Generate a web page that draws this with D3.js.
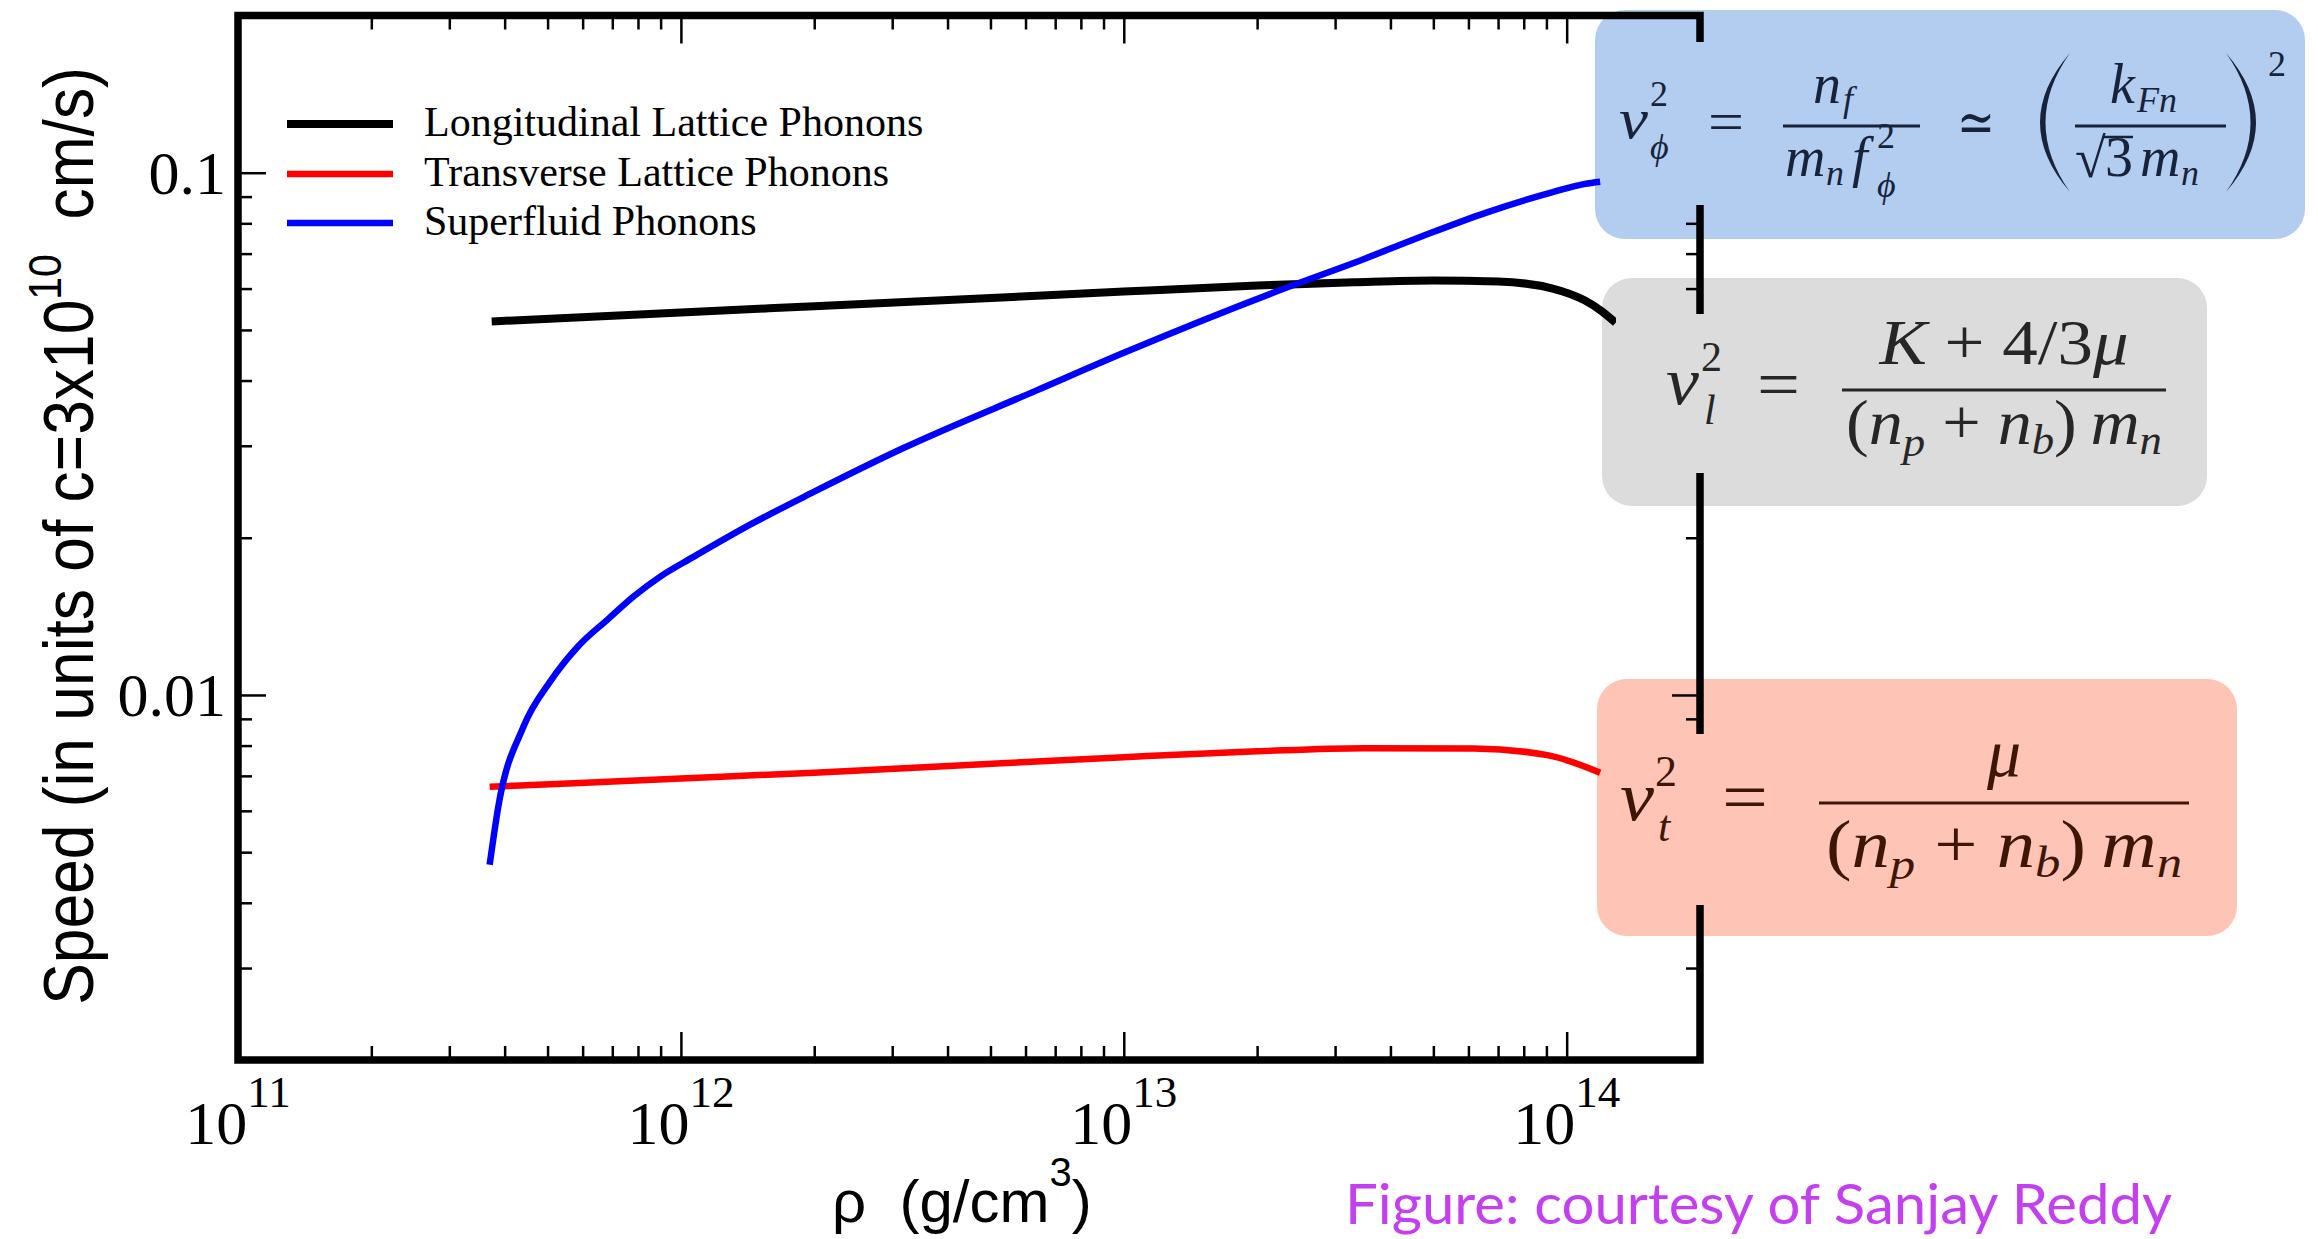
<!DOCTYPE html>
<html>
<head>
<meta charset="utf-8">
<script src="https://cdn.jsdelivr.net/npm/d3@7"></script>
<style>
  body { margin: 0; background: #fff; }
  svg { display: block; }
</style>
</head>
<body>
<div id="chart"></div>
<script>
// Values: density in g/cm^3, speed in units of c
const densityLongitudinal = [3.74e11, 1e12, 2e12, 5.3e12, 1e13, 2e13, 3.3e13, 5e13, 7e13, 9.3e13, 1.1e14, 1.2e14, 1.29e14];
const speedLongitudinal   = [0.0519, 0.0540, 0.0555, 0.0577, 0.0592, 0.0608, 0.0617, 0.0622, 0.0619, 0.0600, 0.0569, 0.0543, 0.0516];

const densityTransverse = [3.70e11, 1e12, 2e12, 5.3e12, 1e13, 2e13, 3.47e13, 6.17e13, 9.1e13, 1.19e14];
const speedTransverse   = [0.00667, 0.00692, 0.00710, 0.00740, 0.00760, 0.00780, 0.00791, 0.00790, 0.00766, 0.00710];

const densitySuperfluid = [3.70e11, 3.87e11, 4.41e11, 5.08e11, 5.87e11, 6.84e11, 7.83e11, 9.0e11, 1.07e12, 1.45e12, 2.0e12, 3.18e12, 6.36e12, 1.0e13, 2.35e13, 3.28e13, 4.7e13, 6.56e13, 9.3e13, 1.1e14, 1.19e14];
const speedSuperfluid   = [0.00473, 0.00611, 0.00869, 0.01064, 0.01241, 0.01396, 0.01545, 0.01687, 0.0184, 0.0213, 0.0245, 0.0297, 0.0383, 0.0452, 0.0604, 0.0670, 0.0755, 0.0838, 0.0918, 0.0952, 0.0961];

const seriesNames = ["Longitudinal Lattice Phonons", "Transverse Lattice Phonons", "Superfluid Phonons"];

const xMajorTicks = [1e11, 1e12, 1e13, 1e14];
const xTickExponents = ["11", "12", "13", "14"];
const yMajorTicks = [0.01, 0.1];
const yTickLabels = ["0.01", "0.1"];

class SpeedChart {

  constructor(_config) {
    this.config = {
      parentElement: _config.parentElement,
      containerWidth: 2318,
      containerHeight: 1239,
      plot: {left: 238, right: 1700, top: 15.5, bottom: 1060},
      majorTick: 28,
      minorTick: 14,
      colors: ["#000000", "#ff0000", "#0000ff"],
      widths: [8, 6.5, 6.5]
    };
    this.series = [
      densityLongitudinal.map((d, i) => [d, speedLongitudinal[i]]),
      densityTransverse.map((d, i) => [d, speedTransverse[i]]),
      densitySuperfluid.map((d, i) => [d, speedSuperfluid[i]])
    ];
    this.initVis();
  }

  initVis() {
    let vis = this;
    const p = vis.config.plot;

    vis.svg = d3.select(vis.config.parentElement).append("svg")
        .attr("width", vis.config.containerWidth)
        .attr("height", vis.config.containerHeight);

    vis.svg.append("rect")
        .attr("width", vis.config.containerWidth)
        .attr("height", vis.config.containerHeight)
        .attr("fill", "#fff");

    vis.xScale = d3.scaleLog().domain([1e11, 2e14]).range([p.left, p.right]);
    vis.yScale = d3.scaleLog().domain([0.002, 0.2]).range([p.bottom, p.top]);

    vis.addBoxes();
    vis.addAxes();
    vis.addLabels();
    vis.renderLines();
    vis.addLegend();
    vis.addFormulas();
  }

  addBoxes() {
    let vis = this;
    // formula panels sit behind the frame; their centres are opaque (see addFormulas)
    vis.boxes = [
      {x0: 1595, x1: 2305, y0: 10, y1: 239, fill: "#b3cdf1", inner: [42, 205], ink: "#17233a"},
      {x0: 1602, x1: 2207, y0: 278, y1: 506, fill: "#dcdcdc", inner: [314, 473], ink: "#262626"},
      {x0: 1597, x1: 2237, y0: 679, y1: 936, fill: "#fec4b5", inner: [734, 905], ink: "#3d1608"}
    ];
    vis.svg.append("g").selectAll("rect")
        .data(vis.boxes)
      .join("rect")
        .attr("x", d => d.x0)
        .attr("y", d => d.y0)
        .attr("width", d => d.x1 - d.x0)
        .attr("height", d => d.y1 - d.y0)
        .attr("rx", 30)
        .attr("fill", d => d.fill);
  }

  addAxes() {
    let vis = this;
    const p = vis.config.plot;

    const minorX = [];
    [1e11, 1e12, 1e13].forEach(d => d3.range(2, 10).forEach(k => minorX.push(d * k)));
    const minorY = [];
    [0.001, 0.01].forEach(d => d3.range(2, 10).forEach(k => { if (d * k > 0.0021) minorY.push(d * k); }));

    const specs = [
      {make: d3.axisBottom, scale: vis.xScale, pos: `translate(0,${p.bottom})`, major: xMajorTicks, minor: minorX},
      {make: d3.axisTop,    scale: vis.xScale, pos: `translate(0,${p.top})`,    major: xMajorTicks, minor: minorX},
      {make: d3.axisLeft,   scale: vis.yScale, pos: `translate(${p.left},0)`,   major: yMajorTicks, minor: minorY},
      {make: d3.axisRight,  scale: vis.yScale, pos: `translate(${p.right},0)`,  major: yMajorTicks, minor: minorY}
    ];

    specs.forEach(s => {
      const gMajor = vis.svg.append("g").attr("transform", s.pos)
          .call(s.make(s.scale).tickValues(s.major).tickSize(-vis.config.majorTick).tickSizeOuter(0).tickFormat(""));
      const gMinor = vis.svg.append("g").attr("transform", s.pos)
          .call(s.make(s.scale).tickValues(s.minor).tickSize(-vis.config.minorTick).tickSizeOuter(0).tickFormat(""));
      [gMajor, gMinor].forEach(g => {
        g.select(".domain").remove();
        g.selectAll(".tick line").attr("stroke", "#000").attr("stroke-width", 2.5);
      });
    });

    // plot frame
    vis.svg.append("rect")
        .attr("x", p.left)
        .attr("y", p.top)
        .attr("width", p.right - p.left)
        .attr("height", p.bottom - p.top)
        .attr("fill", "none")
        .attr("stroke", "#000")
        .attr("stroke-width", 7.5);

    // x tick labels 10^n
    const xl = vis.svg.append("g")
        .attr("font-family", "'Liberation Serif', 'Times New Roman', serif")
      .selectAll("text")
        .data(xMajorTicks)
      .join("text")
        .attr("x", d => vis.xScale(d))
        .attr("y", p.bottom + 84)
        .attr("text-anchor", "middle")
        .attr("font-size", 62);
    xl.append("tspan").text("10");
    xl.append("tspan").attr("font-size", 45).attr("dy", -37).text((d, i) => xTickExponents[i]);

    // y tick labels
    vis.svg.append("g")
        .attr("font-family", "'Liberation Serif', 'Times New Roman', serif")
      .selectAll("text")
        .data(yMajorTicks)
      .join("text")
        .attr("x", p.left - 12)
        .attr("y", d => vis.yScale(d) + 21)
        .attr("text-anchor", "end")
        .attr("font-size", 62)
        .text((d, i) => yTickLabels[i]);
  }

  addLabels() {
    let vis = this;

    const ylab = vis.svg.append("text")
        .attr("font-family", "'Liberation Sans', Arial, sans-serif")
        .attr("font-size", 70)
        .attr("text-anchor", "middle");
    ylab.append("tspan").text("Speed (in units of c=3x10");
    ylab.append("tspan").attr("font-size", 46).attr("dy", -32).text("10");
    ylab.append("tspan").attr("dy", 32).text("\u00a0 cm/s)");
    const w = ylab.node().getBBox().width;
    ylab.attr("transform", `translate(93,536) rotate(-90) scale(${938 / w},1)`);

    const xlab = vis.svg.append("text")
        .attr("x", 832)
        .attr("y", 1222)
        .attr("font-family", "'Liberation Sans', Arial, sans-serif")
        .attr("font-size", 60);
    xlab.append("tspan").text("\u03c1\u00a0 (g/cm");
    xlab.append("tspan").attr("font-size", 40).attr("dy", -36).text("3");
    xlab.append("tspan").attr("dy", 36).text(")");

    vis.svg.append("text")
        .attr("x", 1345)
        .attr("y", 1224)
        .attr("font-family", "Lato, 'Open Sans', sans-serif")
        .attr("font-size", 57)
        .attr("fill", "#c43ff0")
        .attr("textLength", 827)
        .attr("lengthAdjust", "spacingAndGlyphs")
        .text("Figure: courtesy of Sanjay Reddy");
  }

  renderLines() {
    let vis = this;
    const line = d3.line()
        .x(d => vis.xScale(d[0]))
        .y(d => vis.yScale(d[1]))
        .curve(d3.curveMonotoneX);

    vis.svg.append("g").selectAll("path")
        .data(vis.series)
      .join("path")
        .attr("d", line)
        .attr("fill", "none")
        .attr("stroke", (d, i) => vis.config.colors[i])
        .attr("stroke-width", (d, i) => vis.config.widths[i]);
  }

  addLegend() {
    let vis = this;
    const rows = [124, 174, 223];
    const g = vis.svg.append("g");
    g.selectAll("line")
        .data(seriesNames)
      .join("line")
        .attr("x1", 287).attr("x2", 393)
        .attr("y1", (d, i) => rows[i]).attr("y2", (d, i) => rows[i])
        .attr("stroke", (d, i) => vis.config.colors[i])
        .attr("stroke-width", (d, i) => i === 0 ? 8 : 6.5);
    g.selectAll("text")
        .data(seriesNames)
      .join("text")
        .attr("x", 424)
        .attr("y", (d, i) => rows[i] + 12)
        .attr("font-family", "'Liberation Serif', 'Times New Roman', serif")
        .attr("font-size", 42)
        .text(d => d);
  }

  addFormulas() {
    let vis = this;
    const serif = "'Liberation Serif', 'DejaVu Serif', serif";

    // opaque centres of the panels hide the right axis
    vis.svg.append("g").selectAll("rect")
        .data(vis.boxes)
      .join("rect")
        .attr("x", d => d.x0 + 14)
        .attr("y", d => d.inner[0])
        .attr("width", d => d.x1 - d.x0 - 28)
        .attr("height", d => d.inner[1] - d.inner[0])
        .attr("fill", d => d.fill);

    const mt = (ink, x, y, str, size, italic, anchor, width) => {
      const t = vis.svg.append("text")
          .attr("x", x).attr("y", y)
          .attr("font-family", serif)
          .attr("font-size", size)
          .attr("font-style", italic ? "italic" : "normal")
          .attr("text-anchor", anchor || "start")
          .attr("fill", ink)
          .text(str);
      if (width) t.attr("textLength", width).attr("lengthAdjust", "spacingAndGlyphs");
      return t;
    };
    const bar = (ink, x0, x1, y) => vis.svg.append("line")
        .attr("x1", x0).attr("x2", x1).attr("y1", y).attr("y2", y)
        .attr("stroke", ink).attr("stroke-width", 3);
    const paren = (ink, xi, xo, top, bottom, t) => {
      const mid = (top + bottom) / 2;
      vis.svg.append("path")
          .attr("d", `M${xi},${top} Q${2 * xo - xi},${mid} ${xi},${bottom} Q${2 * (xo + t) - xi},${mid} ${xi},${top} Z`)
          .attr("fill", ink);
    };

    // v_phi^2 = n_f / (m_n f_phi^2) ~ (k_Fn / (sqrt3 m_n))^2
    let ink = vis.boxes[0].ink;
    mt(ink, 1619, 138, "v", 58, true, "start", 29);
    mt(ink, 1650, 106, "2", 36);
    mt(ink, 1650, 159, "\u03d5", 36, true);
    mt(ink, 1708, 141, "=", 58, false, "start", 36);
    bar(ink, 1783, 1920, 126);
    mt(ink, 1813, 103, "n", 56, true);
    mt(ink, 1843, 111, "f", 36, true);
    mt(ink, 1785, 176, "m", 56, true);
    mt(ink, 1826, 185, "n", 36, true);
    mt(ink, 1852, 176, "f", 56, true);
    mt(ink, 1877, 148, "2", 36);
    mt(ink, 1877, 197, "\u03d5", 36, true);
    mt(ink, 1957, 142, "\u2243", 58, false, "start", 38);
    paren(ink, 2070, 2040, 53, 192, 5.5);
    bar(ink, 2075, 2226, 126);
    mt(ink, 2110, 103, "k", 56, true);
    mt(ink, 2137, 112, "Fn", 36, true);
    mt(ink, 2075, 177, "\u221a", 56);
    vis.svg.append("line").attr("x1", 2103).attr("x2", 2133).attr("y1", 137).attr("y2", 137)
        .attr("stroke", ink).attr("stroke-width", 2.5);
    mt(ink, 2105, 176, "3", 56);
    mt(ink, 2140, 176, "m", 56, true);
    mt(ink, 2181, 185, "n", 36, true);
    paren(ink, 2226, 2256, 53, 192, -5.5);
    mt(ink, 2268, 76, "2", 36);

    // shared denominator (n_p + n_b) m_n
    const denom = (ink, y, size, width) => {
      const t = vis.svg.append("text")
          .attr("x", 2004).attr("y", y)
          .attr("font-family", serif)
          .attr("font-size", size)
          .attr("text-anchor", "middle")
          .attr("textLength", width)
          .attr("lengthAdjust", "spacingAndGlyphs")
          .attr("fill", ink);
      const s = Math.round(size * 0.66);
      t.append("tspan").text("(");
      t.append("tspan").attr("font-style", "italic").text("n");
      t.append("tspan").attr("font-style", "italic").attr("font-size", s).attr("dy", 12).text("p");
      t.append("tspan").attr("dy", -12).text("\u00a0+\u00a0");
      t.append("tspan").attr("font-style", "italic").text("n");
      t.append("tspan").attr("font-style", "italic").attr("font-size", s).attr("dy", 10).text("b");
      t.append("tspan").attr("dy", -10).text(")\u2009");
      t.append("tspan").attr("font-style", "italic").text("m");
      t.append("tspan").attr("font-style", "italic").attr("font-size", s).attr("dy", 10).text("n");
    };

    // v_l^2 = (K + 4/3 mu) / ((n_p + n_b) m_n)
    ink = vis.boxes[1].ink;
    mt(ink, 1666, 404, "v", 68, true, "start", 33);
    mt(ink, 1701, 371, "2", 42);
    mt(ink, 1704, 424, "l", 42, true);
    mt(ink, 1757, 407, "=", 68, false, "start", 43);
    bar(ink, 1842, 2166, 390);
    const num = vis.svg.append("text")
        .attr("x", 2004).attr("y", 364)
        .attr("font-family", serif)
        .attr("font-size", 64)
        .attr("text-anchor", "middle")
        .attr("textLength", 249)
        .attr("lengthAdjust", "spacingAndGlyphs")
        .attr("fill", ink);
    num.append("tspan").attr("font-style", "italic").text("K");
    num.append("tspan").text("\u00a0+\u00a04/3");
    num.append("tspan").attr("font-style", "italic").text("\u03bc");
    denom(ink, 444, 64, 316);

    // v_t^2 = mu / ((n_p + n_b) m_n)
    ink = vis.boxes[2].ink;
    mt(ink, 1620, 820, "v", 70, true, "start", 34);
    mt(ink, 1655, 786, "2", 44);
    mt(ink, 1658, 841, "t", 44, true);
    mt(ink, 1722, 821, "=", 70, false, "start", 46);
    bar(ink, 1819, 2189, 803);
    mt(ink, 2004, 776, "\u03bc", 68, true, "middle");
    denom(ink, 867, 68, 356);
  }
}

new SpeedChart({parentElement: "#chart"});
</script>
</body>
</html>
